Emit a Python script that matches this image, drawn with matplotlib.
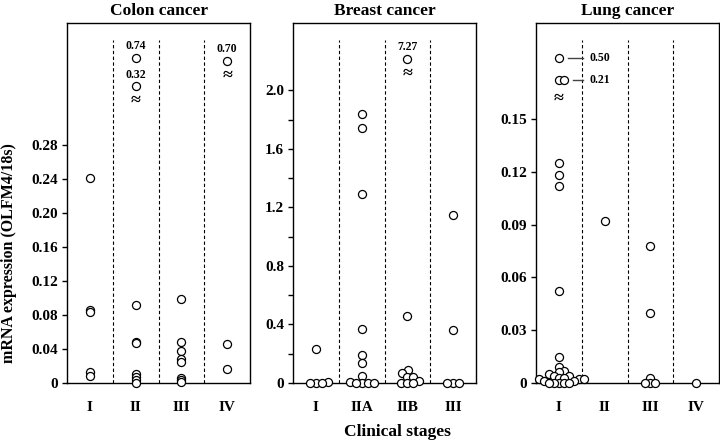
import numpy as np
import matplotlib
matplotlib.use('Agg')
import matplotlib.pyplot as plt

plt.rcParams['font.family'] = ['Liberation Serif', 'DejaVu Serif']
plt.rcParams['font.weight'] = 'bold'

# Colon cancer
colon_stages = ['I', 'II', 'III', 'IV']
colon_I = [0.241, 0.086, 0.083, 0.013, 0.008]
colon_II = [0.092, 0.048, 0.047, 0.010, 0.007, 0.003, 0.0]
colon_III = [0.099, 0.048, 0.038, 0.028, 0.025, 0.006, 0.003, 0.001]
colon_IV = [0.046, 0.017]
colon_high = [[], [0.32, 0.74], [], [0.70]]  # valores por encima del corte

# Breast cancer
breast_stages = ['I', 'IIA', 'IIB', 'III']
breast_I = [0.23, 0.01, 0.0, 0.0, 0.0]
breast_IIA = [1.84, 1.74, 1.29, 0.37, 0.19, 0.14, 0.05, 0.01, 0.0, 0.0, 0.0, 0.0]
breast_IIB = [0.46, 0.089, 0.07, 0.043, 0.043, 0.016, 0.002, 0.0, 0.0]
breast_III = [1.15, 0.36, 0.0, 0.0, 0.0]
breast_high = [[], [], [7.27], []]

# Lung cancer
lung_stages = ['I', 'II', 'III', 'IV']
lung_I = [0.125, 0.118, 0.112, 0.052, 0.015, 0.009, 0.007, 0.006, 0.005,
          0.004, 0.004, 0.003, 0.003, 0.002, 0.002, 0.002, 0.001, 0.001,
          0.0, 0.0, 0.0, 0.0, 0.0]
lung_II = [0.092]
lung_III = [0.078, 0.040, 0.003, 0.0, 0.0, 0.0]
lung_IV = [0.0]
lung_high = [[0.21, 0.21, 0.50], [], [], []]


def swarm_x(ax, xc, ys, min_d):
    """Separa horizontalmente los puntos que se solapan (distancia en px)."""
    xs = np.full(len(ys), float(xc))
    if min_d <= 0 or len(ys) == 0:
        return xs
    pts = ax.transData.transform(np.column_stack([xs, ys]))
    px_unit = ax.transData.transform((1, 0))[0] - ax.transData.transform((0, 0))[0]
    placed = []
    for i in np.argsort(ys, kind='stable'):
        y = pts[i, 1]
        for k in range(400):
            dx = ((k + 1) // 2) * 0.5 * (1 if k % 2 else -1)
            if all((dx - px) ** 2 + (y - py) ** 2 >= min_d ** 2 for px, py in placed):
                break
        placed.append((dx, y))
        xs[i] = xc + dx / px_unit
    return xs


def panel(ax, title, stages, groups, high, ytop, yticks, fmt, minor, min_d,
          brk, side):
    ax.set_xlim(-0.5, len(stages) - 0.5)
    ax.set_ylim(0, ytop)
    px_x = ax.transData.transform((1, 0))[0] - ax.transData.transform((0, 0))[0]
    for xd in np.arange(0.5, len(stages) - 0.5):
        ax.axvline(xd, ymax=0.953, color='black', lw=0.8, ls=(0, (3, 2.2)))

    ref_v, ref_f, slope = brk
    for i, vals in enumerate(groups):
        vals = np.array(vals, dtype=float)
        xs = swarm_x(ax, i, vals, min_d)
        ax.plot(xs, vals, 'o', mfc='white', mec='black', ms=5.8, mew=0.9,
                clip_on=False, zorder=3)

        if not high[i]:
            continue
        hv = np.array(high[i], dtype=float)
        hy = ytop * (ref_f - (ref_v - hv) * slope)
        hx = swarm_x(ax, i, hy, min_d)
        ax.plot(hx, hy, 'o', mfc='white', mec='black', ms=5.8, mew=0.9,
                clip_on=False, zorder=3)
        low = hy.min()
        ax.annotate('\u2248', (i, low), xytext=(0, -10 if side == 'top' else -13),
                    textcoords='offset points', ha='center', va='center',
                    fontsize=13, fontweight='bold')
        for v in sorted(set(high[i])):
            yy = hy[hv == v][0]
            if side == 'top':
                ax.annotate('%.2f' % v, (i, yy), xytext=(0, 8.5),
                            textcoords='offset points', ha='center',
                            va='center', fontsize=8.5)
            else:
                x0 = hx[hv == v].max() + 9 / px_x
                x1 = i + 0.5 + 1 / px_x
                ax.plot([x0, x1], [yy, yy], color='#444444', lw=1.0, zorder=3)
                ax.text(i + 0.5 + 8 / px_x, yy, '%.2f' % v, ha='left',
                        va='center', fontsize=8.5)

    ax.set_yticks(yticks)
    ax.set_yticklabels(['0' if t == 0 else fmt % t for t in yticks], fontsize=11)
    if minor is not None:
        ax.set_yticks(minor, minor=True)
    ax.set_xticks(range(len(stages)))
    ax.set_xticklabels(stages, fontsize=11)
    ax.tick_params(axis='x', length=0, pad=13)
    ax.tick_params(axis='y', which='both', direction='out', length=3.5,
                   width=1, pad=3)
    for s in ax.spines.values():
        s.set_linewidth(1.0)
    ax.set_title(title, fontsize=12.5, fontweight='bold', pad=6)


fig = plt.figure(figsize=(7.2, 4.45), dpi=100)
ax1 = fig.add_axes([67 / 720, 62 / 445, 183 / 720, 360 / 445])
ax2 = fig.add_axes([293 / 720, 62 / 445, 183 / 720, 360 / 445])
ax3 = fig.add_axes([536 / 720, 62 / 445, 183 / 720, 360 / 445])

panel(ax1, 'Colon cancer', colon_stages,
      [colon_I, colon_II, colon_III, colon_IV], colon_high,
      0.4235, np.arange(0, 0.281, 0.04), '%.2f', None, 0,
      (0.74, 0.902, 0.186), 'top')
panel(ax2, 'Breast cancer', breast_stages,
      [breast_I, breast_IIA, breast_IIB, breast_III], breast_high,
      2.46, np.arange(0, 2.01, 0.4), '%.1f', np.arange(0.2, 1.81, 0.4), 6,
      (7.27, 0.90, 0.2), 'top')
panel(ax3, 'Lung cancer', lung_stages,
      [lung_I, lung_II, lung_III, lung_IV], lung_high,
      0.2045, np.arange(0, 0.151, 0.03), '%.2f', None, 5,
      (0.50, 0.904, 0.217), 'right')

fig.text(0.012, 1 - 253 / 445, 'mRNA expression (OLFM4/18s)', rotation=90,
         ha='center', va='center', fontsize=11.5)
fig.text(397 / 720, 1 - 432 / 445, 'Clinical stages', ha='center',
         va='center', fontsize=12.5)

fig.savefig('out.png', dpi=100)
